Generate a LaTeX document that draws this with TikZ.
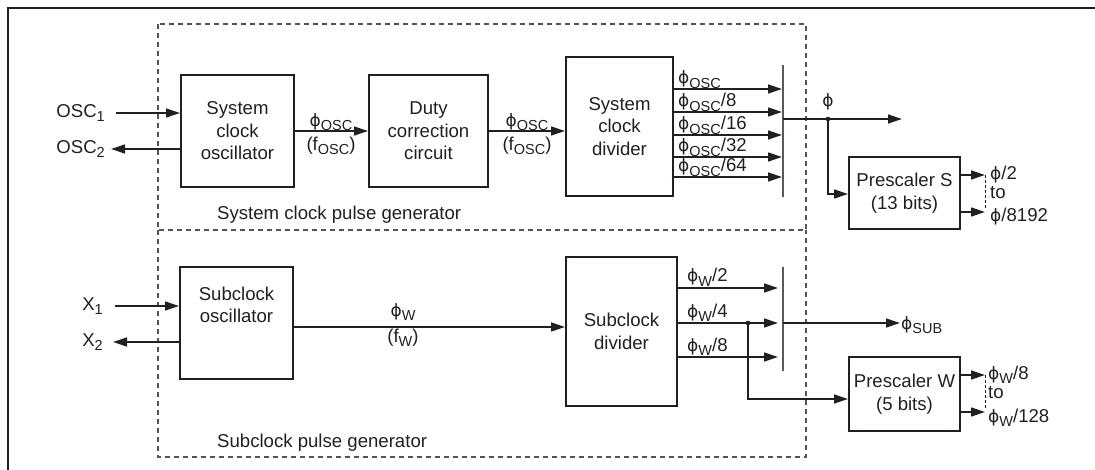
\documentclass[tikz,border=0pt]{standalone}
\usepackage{fontspec}
\setmainfont{Liberation Sans}
\newfontfamily\phifont{DejaVu Sans}
\usetikzlibrary{arrows.meta,calc}
\definecolor{ink}{HTML}{231F20}
\definecolor{dashgray}{HTML}{555555}
\definecolor{bargray}{HTML}{5A5A5A}
\newcommand{\ph}{{\phifont\fontsize{17}{17}\selectfont ϕ}}
\newcommand{\lsub}[1]{\raisebox{-0.22em}{\fontsize{14.5}{14.5}\selectfont #1}}
\tikzset{
  blk/.style={draw=ink, line width=2pt, align=center, inner sep=0pt, text=ink},
  wire/.style={draw=ink, line width=1.3pt},
  arr/.style={wire, -{Triangle[length=14pt,width=9pt]}},
  dashline/.style={draw=dashgray, line width=1.1pt, dash pattern=on 5pt off 4pt},
  smalldash/.style={draw=ink, line width=1pt, dash pattern=on 3pt off 2pt},
  barline/.style={draw=bargray, line width=1.6pt},
  txt/.style={inner sep=0pt, text=ink, align=center},
}
\begin{document}
\begin{tikzpicture}[x=1pt,y=-1pt, font=\fontsize{18.6}{22.5}\selectfont]
\useasboundingbox (0,0) rectangle (1095,470);
% outer frame
\draw[line width=2.6pt, ink] (8,470) -- (8,8) -- (1095,8);
% dashed generator boxes
\draw[dashline] (158,24) rectangle (806,230);
\draw[dashline] (158,230) -- (158,457) -- (806,457) -- (806,230);
\node[txt, anchor=west] (sysgen) at (217,215) {System clock pulse generator};
\node[txt, anchor=west] (subgen) at (217,443) {Subclock pulse generator};

% ---------- system clock ----------
\node[blk, minimum width=113pt, minimum height=112pt] (sosc) at (237.5,131) {System\\clock\\oscillator};
\node[blk, minimum width=119pt, minimum height=112pt] (duty) at (428.5,131) {Duty\\correction\\circuit};
\node[blk, minimum width=107pt, minimum height=139pt] (sdiv) at (619.5,126.5) {System\\clock\\divider};
\node[blk, minimum width=111pt, minimum height=72pt] (presS) at (904.5,193) {Prescaler S\\(13 bits)};

\node[txt, anchor=east] (osc1) at (105,113) {OSC\lsub{1}};
\node[txt, anchor=east] (osc2) at (105,149) {OSC\lsub{2}};
\draw[arr, shorten <=11pt] (osc1.east) -- (osc1.east -| sosc.west);
\draw[arr, shorten >=6pt] (osc2.east -| sosc.west) -- (osc2.east);

\draw[arr] (sosc.east) -- (duty.west);
\node[txt] (l1a) at (331,122) {\ph\lsub{OSC}};
\node[txt] (l1b) at (331,146) {(f\lsub{OSC})};
\draw[arr] (duty.east) -- (duty.east -| sdiv.west);
\node[txt] (l2a) at (527,122) {\ph\lsub{OSC}};
\node[txt] (l2b) at (527,146) {(f\lsub{OSC})};

\coordinate (sbt) at (783,65);
\coordinate (sbb) at (783,197);
\draw[barline] (sbt) -- (sbb);
\foreach \y/\t [count=\i] in {89/{}, 112/{/8}, 135/{/16}, 157/{/32}, 177/{/64}} {
  \coordinate (so\i) at (782,\y);
  \draw[arr] (so\i -| sdiv.east) -- (so\i);
  \node[txt, anchor=base west] (sol\i) at (678,{\y-5}) {\ph\lsub{OSC}\t};
}
\coordinate (phiout) at (783,119);
\coordinate (phiend) at (902,119);
\coordinate (phidot) at (828,119);
\draw[arr] (phiout) -- (phiend);
\fill[ink] (phidot) circle (2.3pt);
\node[txt] (philab) at (828,102) {\ph};
\draw[arr] (phidot) |- ([yshift=-1pt]presS.west);

\coordinate (ps1) at (985,175);
\coordinate (ps2) at (985,212);
\draw[arr] (ps1 -| presS.east) -- (ps1);
\draw[arr] (ps2 -| presS.east) -- (ps2);
\draw[smalldash] (ps1) -- ([yshift=4pt]ps2);
\node[txt, anchor=west] (ps1l) at (990,175) {\ph/2};
\node[txt, anchor=west] (ps2l) at (990,193) {to};
\node[txt, anchor=west] (ps3l) at (990,217) {\ph/8192};

% ---------- subclock ----------
\node[blk, minimum width=113pt, minimum height=112pt] (subosc) at (236.5,323) {};
\node[txt] (subosctxt) at (236.5,305) {Subclock\\oscillator};
\node[blk, minimum width=111pt, minimum height=149pt] (subdiv) at (621.5,331.5) {Subclock\\divider};
\node[blk, minimum width=111pt, minimum height=74pt] (presW) at (904.5,394) {Prescaler W\\(5 bits)};

\node[txt, anchor=east] (x1) at (103,306) {X\lsub{1}};
\node[txt, anchor=east] (x2) at (103,342) {X\lsub{2}};
\draw[arr, shorten <=12pt] (x1.east) -- (x1.east -| subosc.west);
\draw[arr, shorten >=10pt] (x2.east -| subosc.west) -- (x2.east);

\draw[arr] ([yshift=-4pt]subosc.east) -- ([yshift=-4pt]subosc.east -| subdiv.west);
\node[txt] (lwa) at (403,312) {\ph\lsub{W}};
\node[txt] (lwb) at (403,338) {(f\lsub{W})};

\coordinate (wbt) at (783,267);
\coordinate (wbb) at (783,371);
\draw[barline] (wbt) -- (wbb);
\foreach \y/\t [count=\i] in {288/2, 323/4, 357/8} {
  \coordinate (wo\i) at (778,\y);
  \draw[arr] (wo\i -| subdiv.east) -- (wo\i);
  \node[txt, anchor=base west] (wol\i) at (687,{\y-6}) {\ph\lsub{W}/\t};
}
\coordinate (subout) at (783,323);
\coordinate (subend) at (900,323);
\coordinate (wdot) at (748,323);
\draw[arr] (subout) -- (subend);
\node[txt, anchor=west] (sublab) at (901,325) {\ph\lsub{SUB}};
\fill[ink] (wdot) circle (2.3pt);
\draw[arr] (wdot) |- ([yshift=-5pt]presW.west);

\coordinate (pw1) at (985,375);
\coordinate (pw2) at (985,412);
\draw[arr] (pw1 -| presW.east) -- (pw1);
\draw[arr] (pw2 -| presW.east) -- (pw2);
\draw[smalldash] (pw1) -- ([yshift=4pt]pw2);
\node[txt, anchor=west] (pw1l) at (988,375) {\ph\lsub{W}/8};
\node[txt, anchor=west] (pw2l) at (988,393) {to};
\node[txt, anchor=west] (pw3l) at (988,418) {\ph\lsub{W}/128};
\end{tikzpicture}
\end{document}
